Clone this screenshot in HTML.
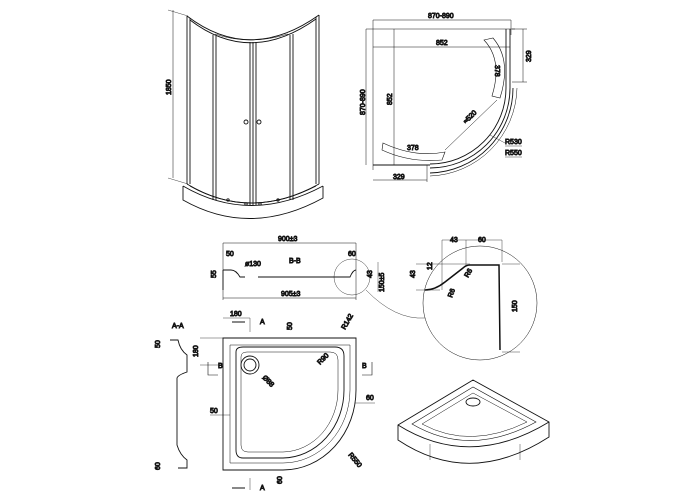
<!DOCTYPE html>
<html><head><meta charset="utf-8"><style>
html,body{margin:0;padding:0;background:#fff;}
svg{display:block;}
text{font-family:"Liberation Sans",sans-serif;font-size:7px;fill:#333;}
</style></head><body>
<svg width="700" height="500" viewBox="0 0 700 500" xmlns="http://www.w3.org/2000/svg" fill="none" stroke="#111" stroke-width="0.9">
<!-- 3D shower -->
<g>
<line x1="173" y1="10" x2="173" y2="178" stroke-width="0.5"/>
<line x1="168" y1="10" x2="188" y2="16" stroke-width="0.4"/>
<line x1="168" y1="178" x2="188" y2="184" stroke-width="0.4"/>
<text x="0" y="0" transform="translate(171,95) rotate(-90)">1850</text>
<path d="M187 16 L187 184"/><path d="M190 18 L190 184"/>
<path d="M319 15 L319 184"/><path d="M316 17 L316 184"/>
<path d="M187 16 Q250 64 319 15"/><path d="M190 20 Q250 66 316 19"/>
<path d="M215 34 Q250 46 288 34" stroke-width="0.5"/>
<path d="M213 35 L213 200"/><path d="M216 36 L216 200"/>
<path d="M250 42 L250 205"/><path d="M253 42 L253 205"/><path d="M256 42 L256 205"/>
<path d="M290 35 L290 200"/><path d="M293 34 L293 200"/>
<circle cx="246" cy="122" r="2"/><circle cx="259" cy="122" r="2"/>
<path d="M187 184 Q250 222 319 184"/><path d="M190 186 Q250 220 316 186"/>
<path d="M183 186 L183 200 Q250 238 323 198 L323 186"/>
<path d="M183 186 Q250 225 323 186"/>
<circle cx="228" cy="200" r="1.2"/><circle cx="246" cy="204" r="1.2"/><circle cx="260" cy="204" r="1.2"/><circle cx="278" cy="200" r="1.2"/>
</g>
<!-- plan -->
<g>
<line x1="373" y1="20" x2="511" y2="20" stroke-width="0.5"/>
<text x="428" y="18">870-890</text>
<line x1="373" y1="20" x2="373" y2="170" stroke-width="0.5"/>
<line x1="511" y1="20" x2="511" y2="35" stroke-width="0.5"/>
<line x1="366" y1="29" x2="366" y2="165" stroke-width="0.5"/>
<text transform="translate(365,115) rotate(-90)">870-890</text>
<line x1="366" y1="29" x2="515" y2="29" stroke-width="0.5"/>
<line x1="373" y1="47" x2="510" y2="47" stroke-width="0.5"/>
<text x="436" y="45">852</text>
<line x1="394" y1="29" x2="394" y2="165" stroke-width="0.5"/>
<text transform="translate(392,105) rotate(-90)">852</text>
<line x1="373" y1="165" x2="430" y2="165"/>
<path d="M510 29 L510 88 A80 80 0 0 1 430 168"/>
<path d="M506 29 L506 88 A76 76 0 0 1 430 164"/>
<path d="M513 88 A85 85 0 0 1 430 173"/>
<path d="M517 88 A90 90 0 0 1 430 176" stroke-width="0.5"/>
<line x1="512" y1="29" x2="527" y2="29" stroke-width="0.5"/><line x1="512" y1="82" x2="527" y2="82" stroke-width="0.5"/>
<line x1="523" y1="29" x2="523" y2="82" stroke-width="0.5"/>
<text transform="translate(531,62) rotate(-90)">329</text>
<line x1="373" y1="180" x2="427" y2="180" stroke-width="0.5"/><line x1="427" y1="165" x2="427" y2="182" stroke-width="0.5"/>
<text x="393" y="179">329</text>
<path d="M484 40 Q503 60 492 96 L500 98 Q512 60 493 38 Z" stroke-width="0.6"/>
<text transform="translate(495,65) rotate(90)">378</text>
<path d="M383 143 Q415 158 445 152 L442 160 Q410 163 382 150 Z" stroke-width="0.6"/>
<text x="407" y="150">378</text>
<line x1="497" y1="100" x2="445" y2="150" stroke-width="0.5"/>
<text transform="translate(466,124) rotate(-45)">≈520</text>
<line x1="490" y1="135" x2="505" y2="143" stroke-width="0.4"/>
<text x="505" y="144">R530</text><text x="505" y="155">R550</text>
<line x1="505" y1="146" x2="522" y2="146" stroke-width="0.4"/><line x1="505" y1="157" x2="522" y2="157" stroke-width="0.4"/>
</g>
<!-- B-B section -->
<g>
<line x1="223" y1="243" x2="356" y2="243" stroke-width="0.5"/>
<line x1="223" y1="243" x2="223" y2="300" stroke-width="0.5"/><line x1="356" y1="243" x2="356" y2="300" stroke-width="0.5"/>
<text x="278" y="241">900±3</text>
<text x="289" y="263">B-B</text>
<text x="226" y="256">50</text><text x="348" y="256">60</text>
<text x="245" y="266">ø130</text>
<text transform="translate(216,278) rotate(-90)">55</text>
<path d="M223 270 L231 270 Q236 270 240 277 L245 277 M258 277 L350 277 Q353 270 356 270"/>
<path d="M223 270 L223 290"/>
<line x1="223" y1="298" x2="356" y2="298" stroke-width="0.5"/>
<text x="281" y="296">905±3</text>
<circle cx="352" cy="277" r="18" stroke-width="0.4"/>
<text transform="translate(372,278) rotate(-90)">43</text>
<line x1="378" y1="262" x2="378" y2="292" stroke-width="0.4"/>
<text transform="translate(384,292) rotate(-90)">150±5</text>
<path d="M366 290 Q395 320 425 318" stroke-width="0.4"/>
</g>
<!-- detail circle -->
<g>
<circle cx="480" cy="303" r="57" stroke-width="0.5"/>
<line x1="442" y1="240" x2="502" y2="240" stroke-width="0.4"/>
<line x1="442" y1="240" x2="442" y2="290" stroke-width="0.4"/><line x1="466" y1="240" x2="466" y2="265" stroke-width="0.4"/><line x1="502" y1="240" x2="502" y2="262" stroke-width="0.4"/>
<text x="450" y="242">43</text><text x="478" y="242">60</text>
<text transform="translate(415,278) rotate(-90)">43</text>
<text transform="translate(432,270) rotate(-90)">12</text>
<line x1="416" y1="264" x2="470" y2="264" stroke-width="0.4"/><line x1="416" y1="290" x2="440" y2="290" stroke-width="0.4"/>
<path d="M425 290 Q435 290 445 282 L463 268 Q466 265 470 265 L499 265 L500 350" stroke-width="1.5"/>
<line x1="502" y1="264" x2="520" y2="264" stroke-width="0.4"/><line x1="502" y1="352" x2="520" y2="352" stroke-width="0.4"/>
<text transform="translate(517,312) rotate(-90)">150</text>
<text transform="translate(468,278) rotate(-60)">R6</text>
<text transform="translate(452,298) rotate(-70)">R6</text>
</g>
<!-- A-A -->
<g>
<text x="172" y="328">A-A</text>
<path d="M170 340 L178 340 Q180 350 187 355 L187 372 Q178 375 177 378 L177 445 Q180 455 187 460 L187 468 L178 468"/>
<text transform="translate(160,348) rotate(-90)">50</text>
<text transform="translate(160,470) rotate(-90)">60</text>
</g>
<!-- tray plan -->
<g>
<path d="M223 338 L356 338 L356 390 A73 80 0 0 1 283 470 L223 470 Z"/>
<path d="M230 345 L350 345 L350 390 A67 73 0 0 1 283 463 L230 463 Z" stroke-width="0.5"/>
<path d="M236 352 Q236 347 243 347 L335 347 Q344 347 344 356 L344 390 A62 68 0 0 1 283 458 L243 458 Q236 458 236 450 Z"/>
<path d="M241 357 Q241 352 247 352 L330 352 Q338 352 338 360 L338 390 A56 62 0 0 1 283 452 L248 452 Q241 452 241 445 Z" stroke-width="0.5"/>
<circle cx="250" cy="365" r="9"/><circle cx="250" cy="365" r="6"/>
<line x1="223" y1="318" x2="250" y2="318" stroke-width="0.4"/><line x1="250" y1="318" x2="250" y2="332" stroke-width="0.4"/>
<text x="230" y="316">180</text>
<path d="M232 322 L245 322" stroke-width="1"/>
<text x="260" y="324">A</text>
<text x="288" y="330" transform="rotate(-90 290 328)">50</text>
<text transform="translate(345,330) rotate(-60)">R142</text>
<text transform="translate(320,365) rotate(-45)">R90</text>
<text transform="translate(262,378) rotate(45)">Ø88</text>
<line x1="200" y1="338" x2="223" y2="338" stroke-width="0.4"/><line x1="200" y1="365" x2="223" y2="365" stroke-width="0.4"/>
<text transform="translate(198,357) rotate(-90)">180</text>
<path d="M208 362 L208 375 L218 375" stroke-width="0.6"/><text x="218" y="368">B</text>
<path d="M372 362 L372 375 L362 375" stroke-width="0.6"/><text x="362" y="368">B</text>
<text x="210" y="413">50</text>
<line x1="210" y1="415" x2="230" y2="415" stroke-width="0.4"/>
<text x="366" y="400">60</text>
<line x1="355" y1="403" x2="375" y2="403" stroke-width="0.4"/>
<text transform="translate(348,455) rotate(50)">R550</text>
<text transform="translate(282,484) rotate(-90)">60</text>
<path d="M232 488 L245 488" stroke-width="1"/><path d="M250 478 L250 490" stroke-width="0.4"/>
<text x="260" y="490">A</text>
</g>
<!-- 3D tray -->
<g>
<path d="M473 380 L398 425 L398 440 Q470 488 549 437 L549 422 Z"/>
<path d="M398 425 Q470 470 549 422"/>
<path d="M473 387 L412 424 Q470 458 536 422 Z" stroke-width="0.6"/>
<path d="M473 393 L422 424 Q470 450 527 422 Z" stroke-width="0.5"/>
<ellipse cx="473" cy="402" rx="7" ry="4"/>
<line x1="430" y1="444" x2="430" y2="460" stroke-width="0.4"/><line x1="520" y1="444" x2="520" y2="460" stroke-width="0.4"/>
</g>
</svg>
</body></html>
